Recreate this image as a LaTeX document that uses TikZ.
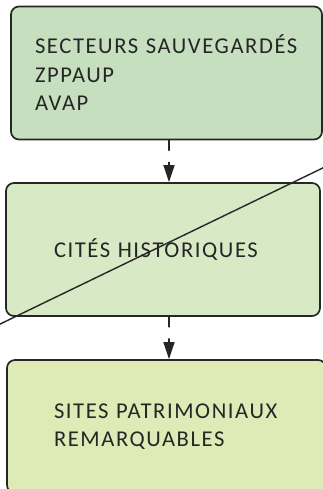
\documentclass[tikz,border=0pt]{standalone}
\usepackage{fontspec}
\setmainfont[LetterSpace=7]{Carlito}
\usetikzlibrary{arrows.meta}
\usetikzlibrary{positioning}
\definecolor{vertA}{RGB}{198,224,191}
\definecolor{vertB}{RGB}{216,233,198}
\definecolor{vertC}{RGB}{223,235,182}
\definecolor{trait}{RGB}{38,38,38}

\begin{document}
\begin{tikzpicture}[x=1pt,y=-1pt,line cap=round,line join=round,
    boite/.style={draw=trait,line width=1.7pt,rounded corners=8pt,align=left,
        font=\fontsize{22.6}{28.5}\selectfont,text=trait,inner ysep=0pt},
    fleche/.style={draw=trait,line width=1.5pt,dash pattern=on 10pt off 12pt,
        -{Triangle[length=17pt,width=11pt]}}]
\useasboundingbox (0,0) rectangle (323,489);
\clip (0,0) rectangle (323,489);

\node[boite,fill=vertA,minimum width=311pt,minimum height=133pt,
    inner xsep=24pt,text width=263pt] (secteurs) at (166.5,73)
    {SECTEURS SAUVEGARDÉS\\ZPPAUP\\AVAP};
\node[boite,fill=vertB,minimum width=314pt,minimum height=133pt,
    inner xsep=48pt,text width=218pt] (cites) at (163,249.5)
    {CITÉS HISTORIQUES};
\node[boite,fill=vertC,minimum width=319pt,minimum height=133pt,
    inner xsep=47pt,text width=225pt] (sites) at (166.5,426.5)
    {SITES PATRIMONIAUX\\REMARQUABLES};

% fleches
\coordinate (x1) at (169,0);
\draw[fleche] (secteurs.south -| x1) -- (cites.north -| x1);
\draw[fleche] (cites.south -| x1) -- (sites.north -| x1);

% barre
\coordinate (barreA) at (-5,326.5);
\coordinate (barreB) at (330,164.5);
\draw[trait,line width=1.4pt] (barreA) -- (barreB);
\end{tikzpicture}
\end{document}
